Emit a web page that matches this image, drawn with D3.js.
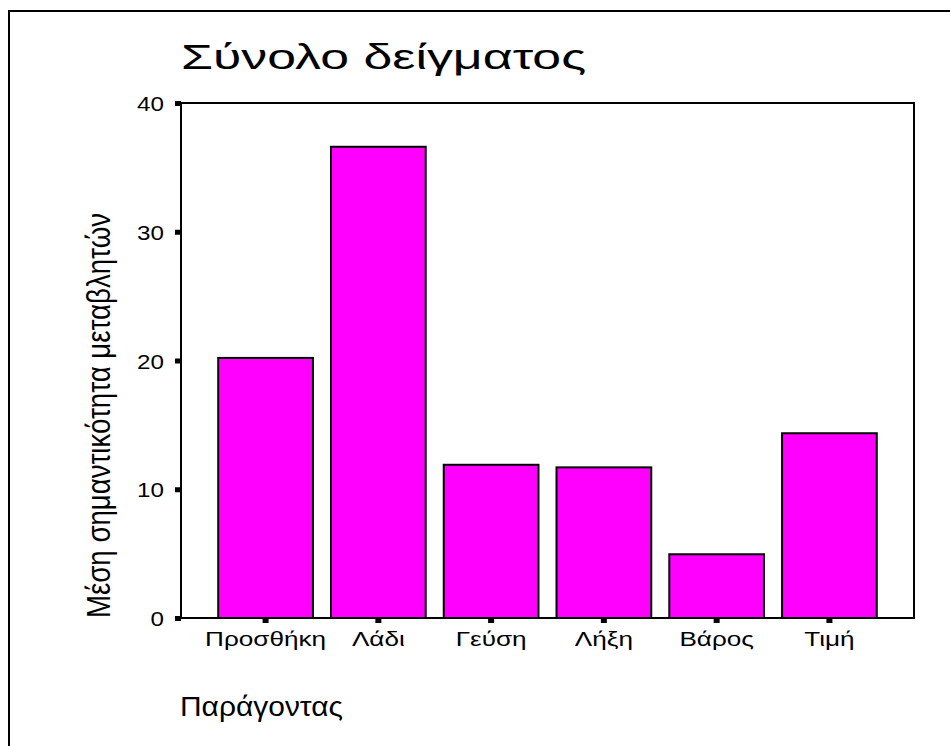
<!DOCTYPE html>
<html>
<head>
<meta charset="utf-8">
<script src="https://cdn.jsdelivr.net/npm/d3@7"></script>
<style>
  body { margin: 0; background: #fff; }
  svg { display: block; font-family: "Liberation Sans", Arial, sans-serif; }
</style>
</head>
<body>
<svg width="950" height="746"></svg>
<script>
const categories = ['Προσθήκη', 'Λάδι', 'Γεύση', 'Λήξη', 'Βάρος', 'Τιμή'];
const values = [20.2, 36.6, 11.9, 11.7, 4.95, 14.35];
const yTicks = [0, 10, 20, 30, 40];

const svg = d3.select('svg');

const margin = { top: 103, right: 36, bottom: 128, left: 181 };
const width = 950 - margin.left - margin.right;
const height = 746 - margin.top - margin.bottom;

// frame round the whole chart (right and bottom edges fall off the page)
svg.append('rect')
  .attr('x', 9).attr('y', 11)
  .attr('width', 960).attr('height', 760)
  .attr('fill', 'none')
  .attr('stroke', '#000')
  .attr('stroke-width', 2);

// the original text is stretched sideways, so scale x only
svg.append('text')
  .attr('transform', 'translate(181,69) scale(1.44,1)')
  .attr('font-size', 36)
  .text('Σύνολο δείγματος');

const x = d3.scaleBand()
  .domain(categories)
  .range([0, width])
  .paddingInner(0.16)
  .paddingOuter(0.33);

const y = d3.scaleLinear().domain([0, 40]).range([height, 0]);

const g = svg.append('g')
  .attr('transform', `translate(${margin.left},${margin.top})`);

// plot box
g.append('rect')
  .attr('width', width).attr('height', height)
  .attr('fill', 'none')
  .attr('stroke', '#000')
  .attr('stroke-width', 2);

g.selectAll('.bar')
  .data(values)
  .enter()
  .append('rect')
  .attr('class', 'bar')
  .attr('x', (d, i) => x(categories[i]))
  .attr('y', (d) => y(d))
  .attr('width', x.bandwidth())
  .attr('height', (d) => height - y(d))
  .attr('fill', '#ff00ff')
  .attr('stroke', '#000')
  .attr('stroke-width', 2);

// y axis ticks: small squares left of the axis
g.selectAll('.ytick')
  .data(yTicks)
  .enter()
  .append('rect')
  .attr('x', -6).attr('y', (d) => y(d) - 2)
  .attr('width', 6).attr('height', 5)
  .attr('fill', '#000');

g.selectAll('.ylab')
  .data(yTicks)
  .enter()
  .append('text')
  .attr('transform', (d) => `translate(-17,${y(d) + 8}) scale(1.24,1)`)
  .attr('text-anchor', 'end')
  .attr('font-size', 19.5)
  .text((d) => d);

// x axis ticks
g.selectAll('.xtick')
  .data(categories)
  .enter()
  .append('rect')
  .attr('x', (d) => x(d) + x.bandwidth() / 2 - 3)
  .attr('y', height)
  .attr('width', 6).attr('height', 5)
  .attr('fill', '#000');

g.selectAll('.xlab')
  .data(categories)
  .enter()
  .append('text')
  .attr('transform', (d) => `translate(${x(d) + x.bandwidth() / 2},${height + 28}) scale(1.34,1)`)
  .attr('text-anchor', 'middle')
  .attr('font-size', 19.5)
  .text((d) => d);

svg.append('text')
  .attr('x', 180).attr('y', 716)
  .attr('font-size', 28)
  .attr('textLength', 163)
  .attr('lengthAdjust', 'spacingAndGlyphs')
  .text('Παράγοντας');

svg.append('text')
  .attr('transform', 'translate(110,618) rotate(-90)')
  .attr('font-size', 33)
  .attr('textLength', 405)
  .attr('lengthAdjust', 'spacingAndGlyphs')
  .text('Μέση σημαντικότητα μεταβλητών');
</script>
</body>
</html>
